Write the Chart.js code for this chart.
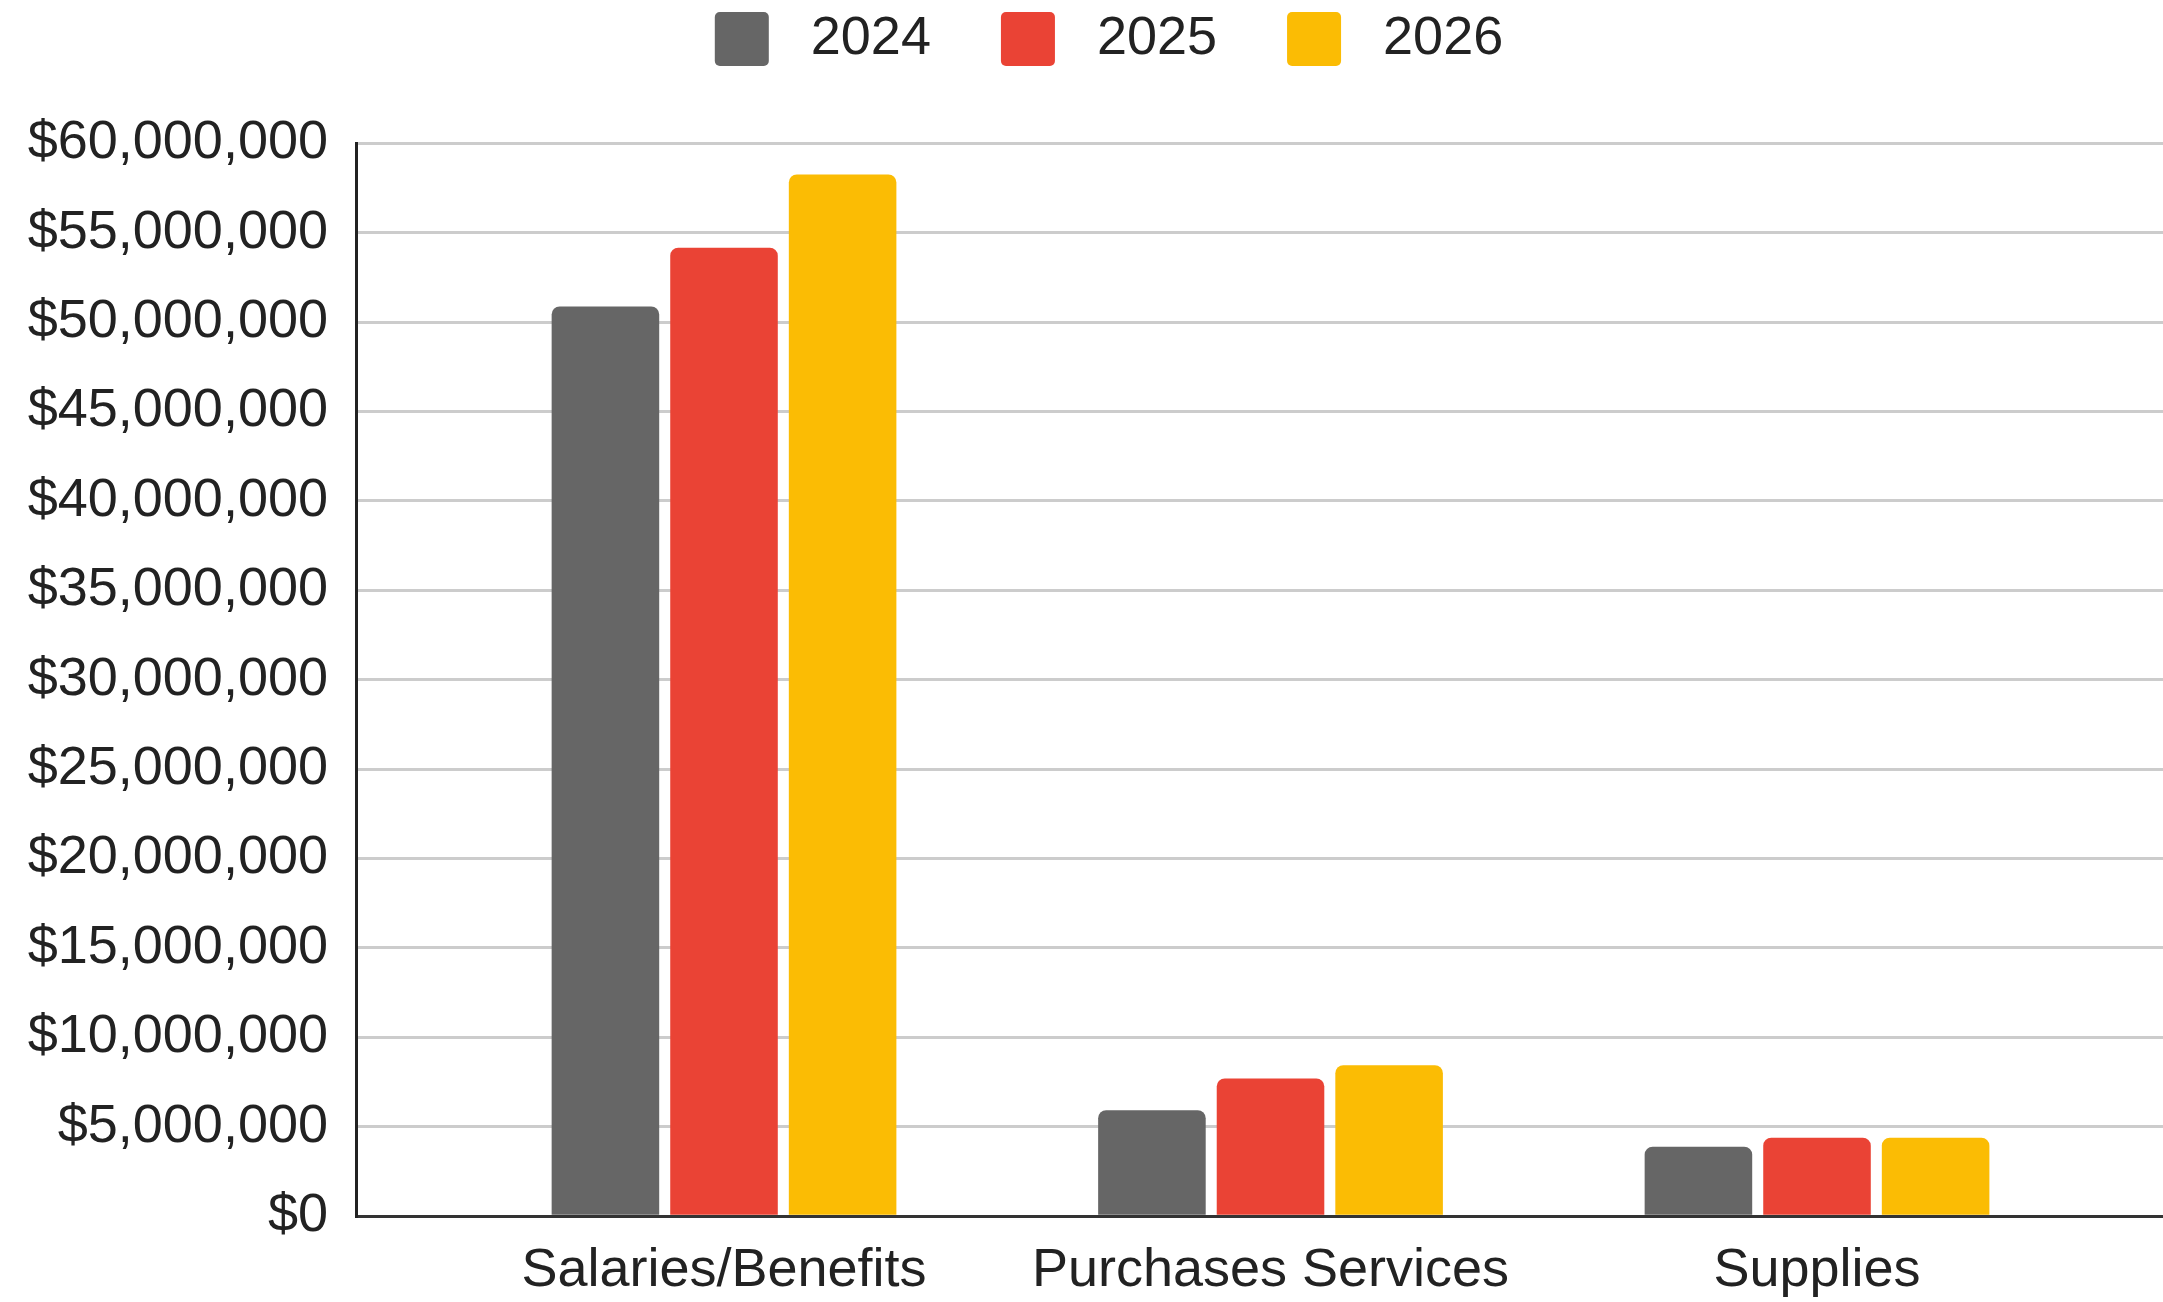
<!DOCTYPE html>
<html>
<head>
<meta charset="utf-8">
<script src="https://cdn.jsdelivr.net/npm/chart.js@4"></script>
<style>
  html, body { margin:0; padding:0; background:#fff; overflow:hidden; }
  #wrap { width:2190px; height:1302px; }
</style>
</head>
<body>
<div id="wrap"><canvas id="budget"></canvas></div>
<script>
const categories = ['Salaries/Benefits', 'Purchases Services', 'Supplies'];
const years = ['2024', '2025', '2026'];
const spend2024 = [50870000, 5930000, 3890000];
const spend2025 = [54160000, 7700000, 4390000];
const spend2026 = [58250000, 8440000, 4390000];
const colors = ['#666666', '#ea4335', '#fbbc04'];

const FONT = "'Liberation Sans', Arial, sans-serif";
const INK = '#222222';

// bars sit on a linear index axis so the group spacing can be set freely
const toPoints = vals => vals.map((v, i) => ({ x: i, y: v }));

const datasets = [spend2024, spend2025, spend2026].map((vals, i) => ({
  label: years[i],
  data: toPoints(vals),
  backgroundColor: colors[i],
  borderWidth: 0,
  borderRadius: 8,
  borderSkipped: 'start',
  categoryPercentage: 0.651,
  barPercentage: 0.907
}));

const money = v => '$' + Number(v).toLocaleString('en-US');

new Chart(document.getElementById('budget'), {
  type: 'bar',
  data: { datasets },
  options: {
    responsive: true,
    maintainAspectRatio: false,
    animation: false,
    layout: { padding: { top: -58, left: 28, right: 0, bottom: -25 } },
    plugins: {
      legend: {
        position: 'top',
        labels: {
          font: { family: FONT, size: 54 },
          color: INK,
          boxWidth: 54,
          boxHeight: 54,
          padding: 70,
          useBorderRadius: true,
          borderRadius: 5,
          generateLabels: chart =>
            Chart.defaults.plugins.legend.labels.generateLabels(chart)
              .map(item => ({ ...item, text: ' ' + item.text }))
        }
      },
      // empty spacer between legend and plot
      title: {
        display: true,
        text: '',
        weight: 500,
        padding: 0,
        font: { size: 56, lineHeight: 1.2 }
      },
      tooltip: { enabled: false }
    },
    scales: {
      x: {
        type: 'linear',
        offset: false,
        min: -0.6734,
        max: 2.6825,
        afterBuildTicks: scale => {
          scale.ticks = categories.map((_, i) => ({ value: i }));
        },
        ticks: {
          autoSkip: false,
          maxRotation: 0,
          padding: 23,
          color: INK,
          font: { family: FONT, size: 54 },
          callback: v => categories[v]
        },
        grid: { display: false, drawTicks: false },
        border: { display: true, color: '#333333', width: 3, z: 1 }
      },
      y: {
        min: 0,
        max: 60000000,
        afterFit: scale => { scale.width = 328; },
        ticks: {
          stepSize: 5000000,
          padding: 28,
          color: INK,
          font: { family: FONT, size: 54 },
          callback: v => money(v)
        },
        grid: { color: '#cccccc', lineWidth: 3, drawTicks: false },
        border: { display: true, color: '#222222', width: 3, z: 1 }
      }
    }
  }
});
</script>
</body>
</html>
